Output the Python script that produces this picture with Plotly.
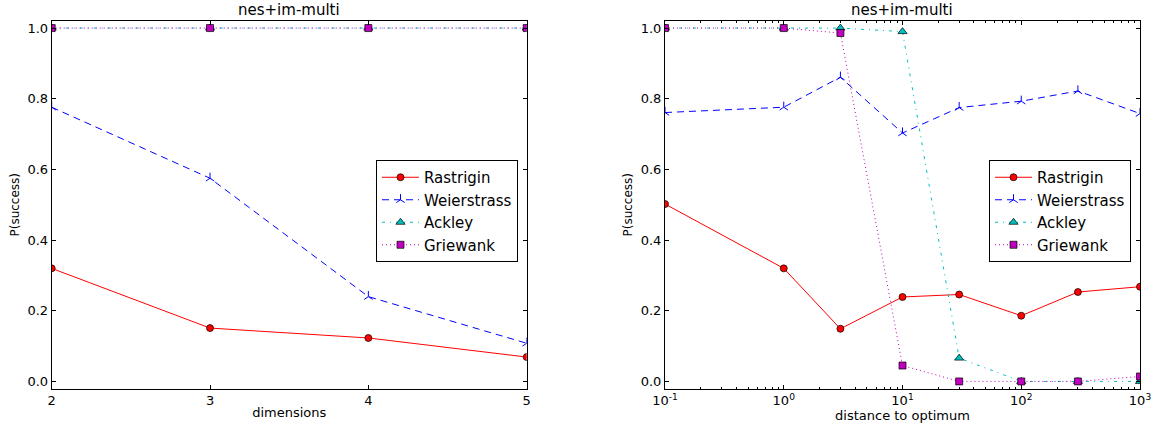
import plotly.graph_objects as go

# ---------------- data ----------------
dims = [2, 3, 4, 5]
left_rastrigin = [0.32, 0.151, 0.123, 0.069]
left_weierstrass = [0.776, 0.575, 0.24, 0.108]
left_ackley = [1.0, 1.0, 1.0, 1.0]
left_griewank = [1.0, 1.0, 1.0, 1.0]

dist = [0.1, 1, 3, 10, 30, 100, 300, 1000]
right_rastrigin = [0.502, 0.32, 0.149, 0.239, 0.246, 0.186, 0.253, 0.268]
right_weierstrass = [0.761, 0.776, 0.861, 0.703, 0.775, 0.793, 0.822, 0.758]
right_ackley = [1.0, 1.0, 1.0, 0.99, 0.066, 0.0, 0.0, 0.0]
right_griewank = [1.0, 1.0, 0.986, 0.045, 0.0, 0.0, 0.0, 0.014]

series_names = ["Rastrigin", "Weierstrass", "Ackley", "Griewank"]
left_tickvals = [2, 3, 4, 5]
y_tickvals = [0.0, 0.2, 0.4, 0.6, 0.8, 1.0]
y_ticktext = ["0.0", "0.2", "0.4", "0.6", "0.8", "1.0"]
log_tickvals = [0.1, 1, 10, 100, 1000]
log_ticktext = ["10<sup>-1</sup>", "10<sup>0</sup>", "10<sup>1</sup>", "10<sup>2</sup>", "10<sup>3</sup>"]
log_minor = [m * d for d in [0.1, 1, 10, 100] for m in range(2, 10)]

title_text = "nes+im-multi"

# ---------------- styles ----------------
FONT = "DejaVu Sans"
styles = {
    "Rastrigin": dict(line=dict(color="#ff0000", width=1, dash="solid"),
                      marker=dict(symbol="circle", size=7, color="#ff0000",
                                  line=dict(color="#000000", width=0.7))),
    "Weierstrass": dict(line=dict(color="#0000ff", width=1, dash="7px,5px"),
                        marker=dict(symbol="y-up-open", size=7, color="#0000ff",
                                    line=dict(color="#0000ff", width=1))),
    "Ackley": dict(line=dict(color="#00bfbf", width=1, dash="3px,5px,1px,5px"),
                   marker=dict(symbol="triangle-up", size=8, color="#00bfbf",
                               line=dict(color="#000000", width=0.7))),
    "Griewank": dict(line=dict(color="#bf00bf", width=1, dash="1px,3px"),
                     marker=dict(symbol="square", size=7, color="#bf00bf",
                                 line=dict(color="#000000", width=0.7))),
}

fig = go.Figure()

left_data = [left_rastrigin, left_weierstrass, left_ackley, left_griewank]
right_data = [right_rastrigin, right_weierstrass, right_ackley, right_griewank]

for name, ys in zip(series_names, left_data):
    fig.add_trace(go.Scatter(x=dims, y=ys, name=name, mode="lines+markers",
                             xaxis="x", yaxis="y", legend="legend", **styles[name]))
for name, ys in zip(series_names, right_data):
    fig.add_trace(go.Scatter(x=dist, y=ys, name=name, mode="lines+markers",
                             xaxis="x2", yaxis="y2", legend="legend2", **styles[name]))

W, H = 1156, 431
xl = [51.7 / W, 526.7 / W]
xr = [665 / W, 1140 / W]
yd = [1 - 388.5 / H, 1 - 21 / H]

axis_common = dict(showline=True, linecolor="#000000", linewidth=1, mirror="ticks",
                   ticks="inside", ticklen=4, tickcolor="#000000", showgrid=False,
                   zeroline=False, automargin=False,
                   tickfont=dict(family=FONT, size=13, color="#000000"))

legend_common = dict(y=1 - 160 / H, xanchor="left", yanchor="top",
                     bgcolor="white", bordercolor="#000000", borderwidth=1,
                     font=dict(family=FONT, size=15), tracegroupgap=0, itemwidth=37)

fig.update_layout(
    width=W, height=H,
    margin=dict(l=0, r=0, t=0, b=0),
    paper_bgcolor="white", plot_bgcolor="white",
    font=dict(family=FONT, size=13, color="#000000"),
    xaxis=dict(domain=xl, range=[2, 5], tickvals=left_tickvals, anchor="y",
               title=dict(text="dimensions", standoff=0, font=dict(size=13)), **axis_common),
    yaxis=dict(domain=yd, range=[-0.02, 1.02], tickvals=y_tickvals, ticktext=y_ticktext,
               anchor="x", title=dict(text="P(success)", standoff=5, font=dict(size=12)), **axis_common),
    xaxis2=dict(domain=xr, type="log", range=[-1, 3], tickvals=log_tickvals,
                ticktext=log_ticktext, anchor="y2",
                minor=dict(tickvals=log_minor, ticks="inside", ticklen=2, tickcolor="#000000"),
                title=dict(text="distance to optimum", standoff=0, font=dict(size=13)), **axis_common),
    yaxis2=dict(domain=yd, range=[-0.02, 1.02], tickvals=y_tickvals, ticktext=y_ticktext,
                anchor="x2", title=dict(text="P(success)", standoff=5, font=dict(size=12)), **axis_common),
    legend=dict(x=376 / W, **legend_common),
    legend2=dict(x=989 / W, **legend_common),
    annotations=[
        dict(text=title_text, x=(xl[0] + xl[1]) / 2, y=1 - 10 / H, xref="paper", yref="paper",
             xanchor="center", yanchor="middle",
             showarrow=False, font=dict(family=FONT, size=15)),
        dict(text=title_text, x=(xr[0] + xr[1]) / 2, y=1 - 10 / H, xref="paper", yref="paper",
             xanchor="center", yanchor="middle",
             showarrow=False, font=dict(family=FONT, size=15)),
    ],
)

fig.write_html("out.html")
